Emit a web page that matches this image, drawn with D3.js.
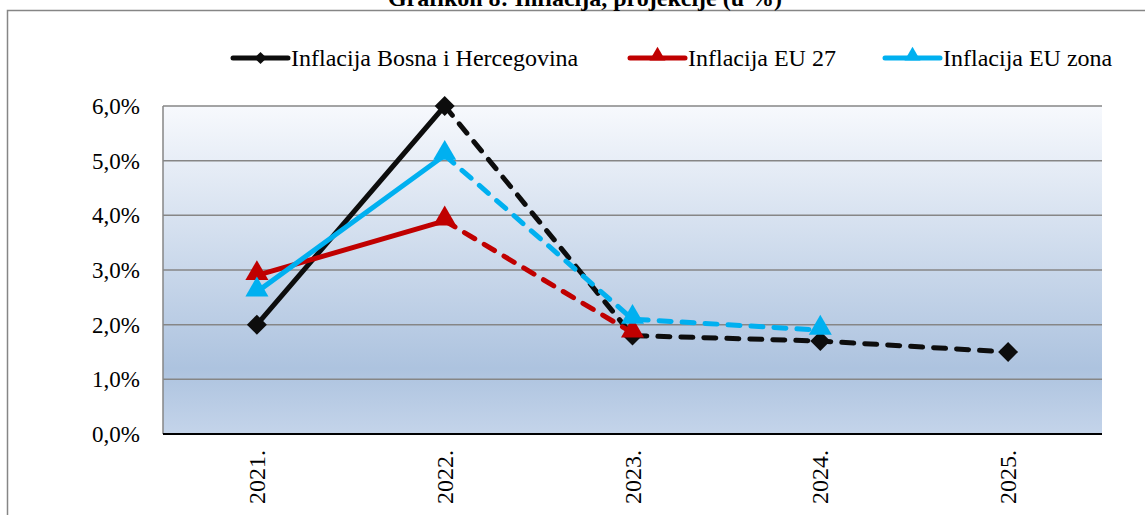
<!DOCTYPE html>
<html>
<head>
<meta charset="utf-8">
<script src="https://cdn.jsdelivr.net/npm/d3@7"></script>
<style>
  body { margin: 0; background: #fff; }
  text { font-family: "Liberation Serif", "DejaVu Serif", serif; }
</style>
</head>
<body>
<div id="chart"></div>
<script>
// Data
var years = ["2021.", "2022.", "2023.", "2024.", "2025."];
var bih = [2.0, 6.0, 1.8, 1.7, 1.5];
var eu27 = [2.9, 3.9, 1.85, null, null];
var euZona = [2.6, 5.1, 2.1, 1.9, null];
var yTicks = [0, 1, 2, 3, 4, 5, 6];

var series = [
  { name: "Inflacija Bosna i Hercegovina", values: bih, color: "#0d0d0d", marker: "diamond", lx: 233 },
  { name: "Inflacija EU 27", values: eu27, color: "#c00000", marker: "triangle", lx: 630 },
  { name: "Inflacija EU zona", values: euZona, color: "#00b0f0", marker: "triangle", lx: 885 },
];

var width = 1145, height = 515;
var plot = { left: 163, right: 1102, top: 106, bottom: 434 };

var svg = d3.select("#chart").append("svg")
  .attr("width", width)
  .attr("height", height);

// Outer frame
svg.append("rect")
  .attr("x", 7.5).attr("y", 10.5)
  .attr("width", 1160).attr("height", 560)
  .attr("fill", "none")
  .attr("stroke", "#868686")
  .attr("stroke-width", 1.5);

// Title (cut off at top like the original)
svg.append("text")
  .attr("x", 585).attr("y", 6)
  .attr("text-anchor", "middle")
  .style("font-size", "24px")
  .style("font-weight", "bold")
  .text("Grafikon 8: Inflacija, projekcije (u %)");

var x = d3.scalePoint().domain(years).range([plot.left, plot.right]).padding(0.5);
var y = d3.scaleLinear().domain([0, 6]).range([plot.bottom, plot.top]);

// Plot background gradient
var defs = svg.append("defs");
var grad = defs.append("linearGradient").attr("id", "bg")
  .attr("x1", 0).attr("y1", 0).attr("x2", 0).attr("y2", 1);
grad.append("stop").attr("offset", "0%").attr("stop-color", "#f7f9fd");
grad.append("stop").attr("offset", "80%").attr("stop-color", "#adc3df");
grad.append("stop").attr("offset", "100%").attr("stop-color", "#c4d4ea");

svg.append("rect")
  .attr("x", plot.left).attr("y", plot.top)
  .attr("width", plot.right - plot.left)
  .attr("height", plot.bottom - plot.top)
  .attr("fill", "url(#bg)");

// Gridlines
svg.selectAll("grid")
  .data(yTicks.slice(1))
  .enter()
  .append("line")
  .attr("x1", plot.left).attr("x2", plot.right)
  .attr("y1", function (d) { return y(d); })
  .attr("y2", function (d) { return y(d); })
  .attr("stroke", "#868686")
  .attr("stroke-width", 1.5);

// Left border
svg.append("line")
  .attr("x1", plot.left).attr("x2", plot.left)
  .attr("y1", plot.top).attr("y2", plot.bottom)
  .attr("stroke", "#868686").attr("stroke-width", 1.5);

// Bottom axis line
svg.append("line")
  .attr("x1", plot.left).attr("x2", plot.right)
  .attr("y1", plot.bottom).attr("y2", plot.bottom)
  .attr("stroke", "#000").attr("stroke-width", 2);

// Y tick labels
svg.selectAll("ylab")
  .data(yTicks)
  .enter()
  .append("text")
  .attr("x", 140)
  .attr("y", function (d) { return y(d) + 8; })
  .attr("text-anchor", "end")
  .style("font-size", "23px")
  .text(function (d) { return d.toFixed(1).replace(".", ",") + "%"; });

// X tick labels (rotated)
svg.selectAll("xlab")
  .data(years)
  .enter()
  .append("text")
  .attr("transform", function (d) {
    return "translate(" + (x(d) + 8) + "," + 450 + ") rotate(-90)";
  })
  .attr("text-anchor", "end")
  .style("font-size", "24px")
  .text(function (d) { return d; });

var line = d3.line()
  .defined(function (d) { return d.v !== null; })
  .x(function (d) { return x(d.year); })
  .y(function (d) { return y(d.v); });

function markerPath(s, small) {
  var type = s.marker === "diamond" ? d3.symbolSquare : d3.symbolTriangle;
  var size = s.marker === "diamond" ? (small ? 75 : 200) : (small ? 110 : 230);
  return d3.symbol().type(type).size(size)();
}
function markerTransform(s, px, py) {
  return s.marker === "diamond"
    ? "translate(" + px + "," + py + ") rotate(45)"
    : "translate(" + px + "," + (py - 2) + ")";
}

// Draw lines: dashed projections first, then solid, then markers
series.forEach(function (s) {
  var pts = s.values.map(function (v, i) { return { year: years[i], v: v }; });
  svg.append("path")
    .datum(pts.slice(1))
    .attr("d", line)
    .attr("fill", "none")
    .attr("stroke", s.color)
    .attr("stroke-width", 5)
    .attr("stroke-linecap", "round")
    .attr("stroke-dasharray", "12,11");
});

series.forEach(function (s) {
  var pts = s.values.map(function (v, i) { return { year: years[i], v: v }; });
  svg.append("path")
    .datum(pts.slice(0, 2))
    .attr("d", line)
    .attr("fill", "none")
    .attr("stroke", s.color)
    .attr("stroke-width", 5)
    .attr("stroke-linecap", "round");
});

series.forEach(function (s) {
  svg.selectAll("m")
    .data(s.values.map(function (v, i) { return { year: years[i], v: v }; })
      .filter(function (d) { return d.v !== null; }))
    .enter()
    .append("path")
    .attr("d", markerPath(s, false))
    .attr("transform", function (d) { return markerTransform(s, x(d.year), y(d.v)); })
    .attr("fill", s.color);
});

// Legend
var legend = svg.selectAll("legend")
  .data(series)
  .enter()
  .append("g")
  .attr("transform", function (d) { return "translate(" + d.lx + ",58)"; });

legend.append("line")
  .attr("x1", 0).attr("x2", 55)
  .attr("stroke", function (d) { return d.color; })
  .attr("stroke-width", 5)
  .attr("stroke-linecap", "round");

legend.append("path")
  .attr("d", function (d) { return markerPath(d, true); })
  .attr("transform", function (d) { return markerTransform(d, 27.5, 0); })
  .attr("fill", function (d) { return d.color; });

legend.append("text")
  .attr("x", 58)
  .attr("y", 8)
  .style("font-size", "24px")
  .text(function (d) { return d.name; });
</script>
</body>
</html>
